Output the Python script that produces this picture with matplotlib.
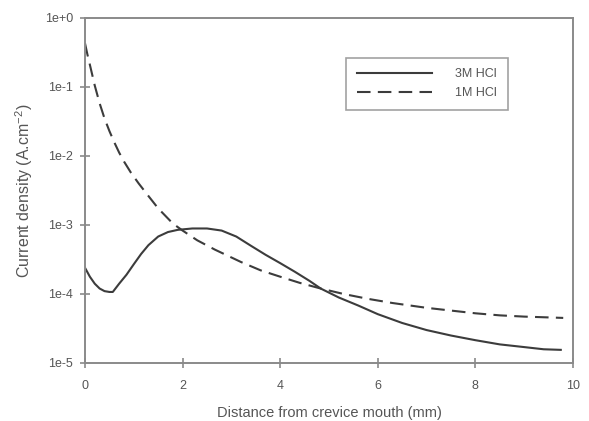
import matplotlib
matplotlib.use("Agg")
import matplotlib.pyplot as plt
from matplotlib.ticker import FixedLocator, NullLocator

plt.rcParams["font.family"] = ["Liberation Sans", "DejaVu Sans"]
plt.rcParams["mathtext.fontset"] = "custom"
plt.rcParams["mathtext.rm"] = "Liberation Sans"

LINE = "#3c3c3c"
AXIS = "#8a8a8a"
TEXT = "#555555"

# 3M HCl (solid)
x_3m = [0, 0.1, 0.2, 0.3, 0.4, 0.5, 0.57, 0.7, 0.85, 1.0, 1.15, 1.3, 1.5, 1.7,
        1.9, 2.2, 2.5, 2.8, 3.1, 3.4, 3.7, 4.0, 4.3, 4.6, 4.83, 5.2, 5.6, 6.0,
        6.5, 7.0, 7.5, 8.0, 8.5, 9.0, 9.4, 9.75]
j_3m = [2.4e-4, 1.78e-4, 1.41e-4, 1.2e-4, 1.1e-4, 1.07e-4, 1.07e-4, 1.41e-4,
        1.9e-4, 2.7e-4, 3.8e-4, 5.1e-4, 6.8e-4, 7.9e-4, 8.5e-4, 8.9e-4, 8.9e-4,
        8.3e-4, 6.8e-4, 5.0e-4, 3.7e-4, 2.8e-4, 2.1e-4, 1.55e-4, 1.2e-4, 8.9e-5,
        6.8e-5, 5.1e-5, 3.8e-5, 3.0e-5, 2.5e-5, 2.14e-5, 1.86e-5, 1.7e-5,
        1.58e-5, 1.55e-5]

# 1M HCl (dashed)
x_1m = [0, 0.05, 0.1, 0.2, 0.3, 0.4, 0.5, 0.6, 0.7, 0.8, 0.94, 1.1, 1.3, 1.5,
        1.8, 2.0, 2.3, 2.66, 3.2, 3.6, 4.0, 4.4, 4.83, 5.3, 5.8, 6.3, 7.0, 7.5,
        8.0, 8.5, 9.0, 9.4, 9.8]
j_1m = [0.43, 0.295, 0.21, 0.105, 0.058, 0.035, 0.023, 0.0158, 0.0112, 8.3e-3,
        5.75e-3, 4.0e-3, 2.63e-3, 1.74e-3, 1.05e-3, 8.3e-4, 6.0e-4, 4.4e-4,
        2.9e-4, 2.2e-4, 1.78e-4, 1.45e-4, 1.2e-4, 1.0e-4, 8.5e-5, 7.4e-5,
        6.3e-5, 5.75e-5, 5.25e-5, 4.9e-5, 4.7e-5, 4.6e-5, 4.5e-5]

y_ticks = [1e-5, 1e-4, 1e-3, 1e-2, 1e-1, 1e0]
y_labels = ["1e-5", "1e-4", "1e-3", "1e-2", "1e-1", "1e+0"]
x_ticks = [0, 2, 4, 6, 8, 10]

fig = plt.figure(figsize=(5.89, 4.21), dpi=100)
ax = fig.add_axes([0.1443, 0.1378, 0.8285, 0.8195])

ax.plot(x_3m, j_3m, color=LINE, lw=1.5, label="3M HCl")
ax.plot(x_1m, j_1m, color=LINE, lw=1.5, linestyle=(0, (6.5, 3.5)), label="1M HCl")

ax.set_yscale("log")
ax.set_xlim(0, 10)
ax.set_ylim(1e-5, 1)
ax.yaxis.set_major_locator(FixedLocator(y_ticks))
ax.yaxis.set_minor_locator(NullLocator())
ax.set_yticklabels(y_labels)
ax.set_xticks(x_ticks)
ax.set_xticklabels([str(t) for t in x_ticks])

for s in ax.spines.values():
    s.set_color(AXIS)
    s.set_linewidth(1.4)
ax.tick_params(direction="inout", length=7, width=1.2, color=AXIS,
               labelcolor=TEXT, labelsize=9, pad=5)
ax.tick_params(axis="x", pad=9)

ax.set_xlabel("Distance from crevice mouth (mm)", color=TEXT, fontsize=10.5, labelpad=10)
ax.set_ylabel("Current density (A.cm$^{-2}$)", color=TEXT, fontsize=11.5, labelpad=7)

leg = ax.legend(loc="upper left", bbox_to_anchor=(0.535, 0.885), fontsize=9,
                handlelength=6.0, handletextpad=1.9, fancybox=False,
                borderpad=0.85, labelspacing=0.55, borderaxespad=0)
leg.get_frame().set_edgecolor(AXIS)
leg.get_frame().set_linewidth(1.2)
for t in leg.get_texts():
    t.set_color(TEXT)

fig.savefig("out.png", dpi=100)
